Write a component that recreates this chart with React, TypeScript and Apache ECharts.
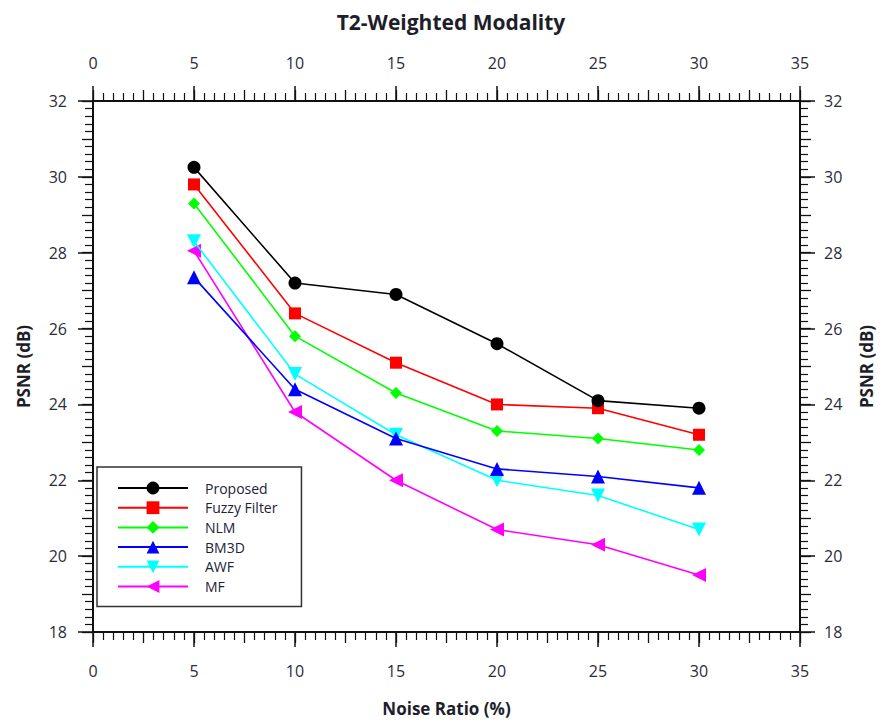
import React, { useEffect, useRef } from "react";
import * as echarts from "echarts";

const noiseRatios = [5, 10, 15, 20, 25, 30];
const proposed = [30.25, 27.2, 26.9, 25.6, 24.1, 23.9];
const fuzzyFilter = [29.8, 26.4, 25.1, 24.0, 23.9, 23.2];
const nlm = [29.3, 25.8, 24.3, 23.3, 23.1, 22.8];
const bm3d = [27.35, 24.4, 23.1, 22.3, 22.1, 21.8];
const awf = [28.3, 24.8, 23.2, 22.0, 21.6, 20.7];
const mf = [28.05, 23.8, 22.0, 20.7, 20.3, 19.5];

const seriesNames = ["Proposed", "Fuzzy Filter", "NLM", "BM3D", "AWF", "MF"];
const seriesData = [proposed, fuzzyFilter, nlm, bm3d, awf, mf];
const seriesColors = ["#000000", "#ff0000", "#00ff00", "#0000ff", "#00ffff", "#ff00ff"];
const seriesSymbols = ["circle", "rect", "diamond", "triangle", "triangle", "triangle"];
const seriesSymbolRotate = [0, 0, 0, 0, 180, 90];
const seriesSymbolSize = [13, 12, 12, 14, 14, 14];

const FONT = "'Open Sans', 'Noto Sans', sans-serif";
const LABEL_COLOR = "#2b2b3a";

function majorAxis(extra: any) {
  return {
    type: "value",
    axisLine: { show: true, onZero: false, lineStyle: { color: "#111", width: 2 } },
    axisTick: { show: true, inside: false, length: 15, lineStyle: { color: "#111", width: 1.5 } },
    minorTick: { show: false },
    splitLine: { show: false },
    axisLabel: { show: true, color: LABEL_COLOR, fontSize: 16, fontFamily: FONT },
    ...extra,
  };
}

function minorAxis(extra: any) {
  return {
    type: "value",
    axisLine: { show: false, onZero: false },
    axisTick: { show: true, inside: false, length: 11, lineStyle: { color: "#111", width: 1.3 } },
    minorTick: { show: true, splitNumber: 5, length: 8, lineStyle: { color: "#111", width: 1.2 } },
    splitLine: { show: false },
    minorSplitLine: { show: false },
    axisLabel: { show: false },
    ...extra,
  };
}

export default function App() {
  const ref = useRef<HTMLDivElement>(null);
  useEffect(() => {
    if (!ref.current) return;
    const chart = echarts.init(ref.current, undefined, { renderer: "svg" });
    const option: any = {
      animation: false,
      backgroundColor: "#ffffff",
      title: {
        text: "T2-Weighted Modality",
        left: 446,
        top: 6,
        textAlign: "center",
        textStyle: { fontFamily: FONT, fontWeight: "bold", fontSize: 21, color: "#1e1e2a" },
      },
      grid: { left: 93, right: 83, top: 101, bottom: 92, containLabel: false },
      legend: {
        orient: "vertical",
        left: 97,
        top: 467,
        padding: [14, 24, 13, 20],
        itemWidth: 70,
        itemHeight: 16,
        itemGap: 5.7,
        borderColor: "#333",
        borderWidth: 1.5,
        backgroundColor: "#fff",
        data: seriesNames,
        textStyle: { fontFamily: FONT, fontSize: 14, color: "#22223a", padding: [0, 0, 0, 12] },
      },
      xAxis: [
        majorAxis({
          position: "bottom",
          min: 0,
          max: 35,
          interval: 5,
          name: "Noise Ratio (%)",
          nameLocation: "middle",
          nameGap: 68,
          nameTextStyle: { fontFamily: FONT, fontWeight: "bold", fontSize: 17, color: "#1e1e2a" },
          axisLabel: { show: true, color: LABEL_COLOR, fontSize: 16, fontFamily: FONT, margin: 31 },
        }),
        minorAxis({ position: "bottom", min: 0, max: 35, interval: 2.5 }),
        majorAxis({
          position: "top",
          min: 0,
          max: 35,
          interval: 5,
          axisLabel: { show: true, color: LABEL_COLOR, fontSize: 16, fontFamily: FONT, margin: 30 },
        }),
        minorAxis({ position: "top", min: 0, max: 35, interval: 2.5 }),
      ],
      yAxis: [
        majorAxis({
          position: "left",
          min: 18,
          max: 32,
          interval: 2,
          name: "PSNR (dB)",
          nameLocation: "middle",
          nameRotate: 90,
          nameGap: 61,
          nameTextStyle: { fontFamily: FONT, fontWeight: "bold", fontSize: 17, color: "#1e1e2a" },
          axisLabel: { show: true, color: LABEL_COLOR, fontSize: 16, fontFamily: FONT, margin: 26 },
        }),
        minorAxis({ position: "left", min: 18, max: 32, interval: 1 }),
        majorAxis({
          position: "right",
          min: 18,
          max: 32,
          interval: 2,
          name: "PSNR (dB)",
          nameLocation: "middle",
          nameRotate: 90,
          nameGap: 58,
          nameTextStyle: { fontFamily: FONT, fontWeight: "bold", fontSize: 17, color: "#1e1e2a" },
          axisLabel: { show: true, color: LABEL_COLOR, fontSize: 16, fontFamily: FONT, margin: 24 },
        }),
        minorAxis({ position: "right", min: 18, max: 32, interval: 1 }),
      ],
      series: seriesNames.map((name, i) => ({
        name,
        type: "line",
        xAxisIndex: 0,
        yAxisIndex: 0,
        data: noiseRatios.map((x, j) => [x, seriesData[i][j]]),
        symbol: seriesSymbols[i],
        symbolSize: seriesSymbolSize[i],
        symbolRotate: seriesSymbolRotate[i],
        showSymbol: true,
        color: seriesColors[i],
        lineStyle: { color: seriesColors[i], width: 1.6 },
        itemStyle: { color: seriesColors[i] },
        z: 10 - i,
      })),
    };
    chart.setOption(option);
    return () => chart.dispose();
  }, []);
  return (
    <div
      ref={ref}
      style={{ position: "fixed", left: 0, top: 0, width: 883, height: 724, background: "#fff" }}
    />
  );
}
